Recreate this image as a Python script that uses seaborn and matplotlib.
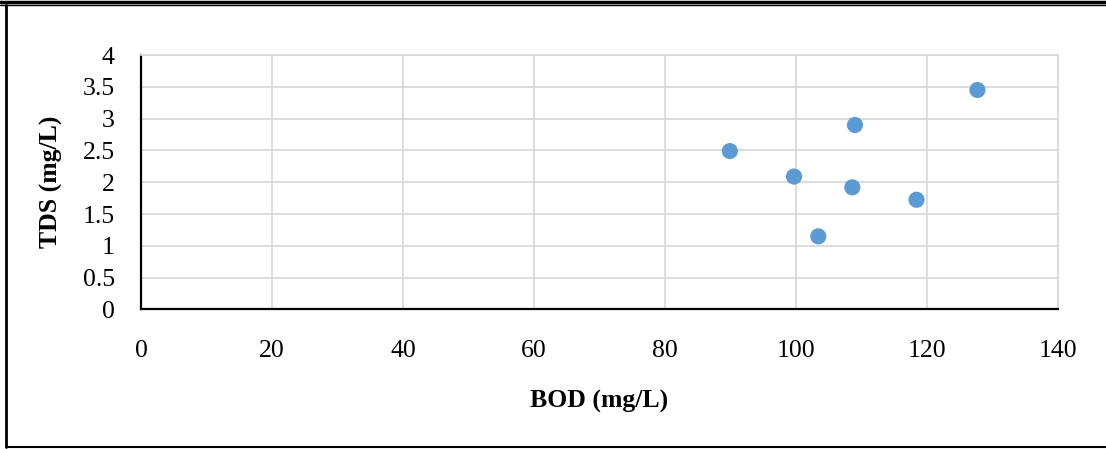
import matplotlib
matplotlib.use("Agg")
import matplotlib.pyplot as plt
import seaborn as sns
import pandas as pd
from matplotlib.lines import Line2D

bod = [89.9, 99.7, 109.0, 108.6, 103.4, 118.4, 127.7]
tds = [2.49, 2.09, 2.90, 1.92, 1.15, 1.725, 3.45]
x_ticks = [0, 20, 40, 60, 80, 100, 120, 140]
y_ticks = [0, 0.5, 1, 1.5, 2, 2.5, 3, 3.5, 4]

df = pd.DataFrame({"BOD (mg/L)": bod, "TDS (mg/L)": tds})

sns.set_style("white")
plt.rcParams["font.family"] = ["Liberation Serif", "DejaVu Serif"]

fig = plt.figure(figsize=(11.06, 4.49), dpi=100)
ax = fig.add_axes([0.1275, 0.3107, 0.8291, 0.5668])

sns.scatterplot(data=df, x="BOD (mg/L)", y="TDS (mg/L)", ax=ax,
                color="#5B9BD5", s=135, edgecolor="none", zorder=3)

ax.set_xlim(0, 140)
ax.set_ylim(0, 4)
ax.set_xticks(x_ticks)
ax.set_yticks(y_ticks)
ax.set_xticklabels([str(v) for v in x_ticks])
ax.set_yticklabels(["0", "0.5", "1", "1.5", "2", "2.5", "3", "3.5", "4"])
ax.grid(True, color="#d9d9d9", linewidth=1.3)
ax.set_axisbelow(True)
ax.tick_params(axis="both", length=0, labelsize=18.5, colors="black")
ax.tick_params(axis="y", pad=19)
ax.tick_params(axis="x", pad=22)

for side in ["top", "right"]:
    ax.spines[side].set_color("#d9d9d9")
    ax.spines[side].set_linewidth(1.3)
for side in ["left", "bottom"]:
    ax.spines[side].set_color("black")
    ax.spines[side].set_linewidth(1.6)

ax.set_xlabel("BOD (mg/L)", fontsize=18.5, fontweight="bold", labelpad=20, color="black")
ax.set_ylabel("TDS (mg/L)", fontsize=18.5, fontweight="bold", labelpad=14, color="black")

# outer frame of the figure
fig.add_artist(Line2D([0, 1], [0.9965, 0.9965], transform=fig.transFigure, color="black", linewidth=2.5))
fig.add_artist(Line2D([0, 1], [0.988, 0.988], transform=fig.transFigure, color="black", linewidth=1.0))
fig.add_artist(Line2D([0.0055, 0.0055], [0.004, 0.988], transform=fig.transFigure, color="black", linewidth=2.0))
fig.add_artist(Line2D([0.0055, 1], [0.004, 0.004], transform=fig.transFigure, color="black", linewidth=1.5))

fig.savefig("out.png", dpi=100)
